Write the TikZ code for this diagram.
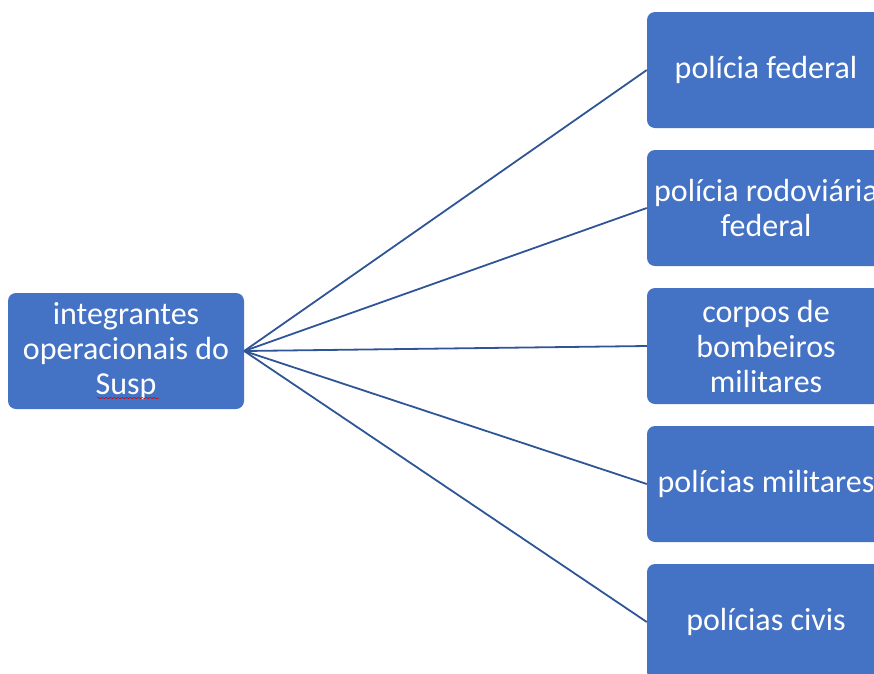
\documentclass[tikz,border=0pt]{standalone}
\usepackage{fontspec}
\setmainfont{Carlito}
\usetikzlibrary{decorations.pathmorphing}
\definecolor{boxblue}{HTML}{4472C4}
\definecolor{lineblue}{HTML}{2F5597}
\begin{document}
\begin{tikzpicture}[x=1pt,y=-1pt,
  item/.style={fill=boxblue,draw=none,rounded corners=8pt,minimum width=238pt,minimum height=116pt,text=white,align=center,font=\fontsize{32}{35}\selectfont},
  link/.style={draw=lineblue,line width=1.8pt}]
\useasboundingbox (0,0) rectangle (874,673);
\clip (0,0) rectangle (874,673);
\node[item,minimum width=236pt] (susp) at (126,351) {integrantes\\operacionais do\\Susp};
\node[item] (pf) at (766,70) {polícia federal};
\node[item] (prf) at (766,208) {polícia rodoviária\\federal};
\node[item] (cbm) at (766,346) {corpos de\\bombeiros\\militares};
\node[item] (pm) at (766,484) {polícias militares};
\node[item] (pc) at (766,622) {polícias civis};
\draw[red!80!black,line width=0.5pt,decorate,decoration={snake,amplitude=0.6pt,segment length=4pt}] ([shift={(-29,47)}]susp.center) -- ++(62,0);
\foreach \t in {pf,prf,cbm,pm,pc}
  \draw[link] (susp.east) -- (\t.west);
\end{tikzpicture}
\end{document}
